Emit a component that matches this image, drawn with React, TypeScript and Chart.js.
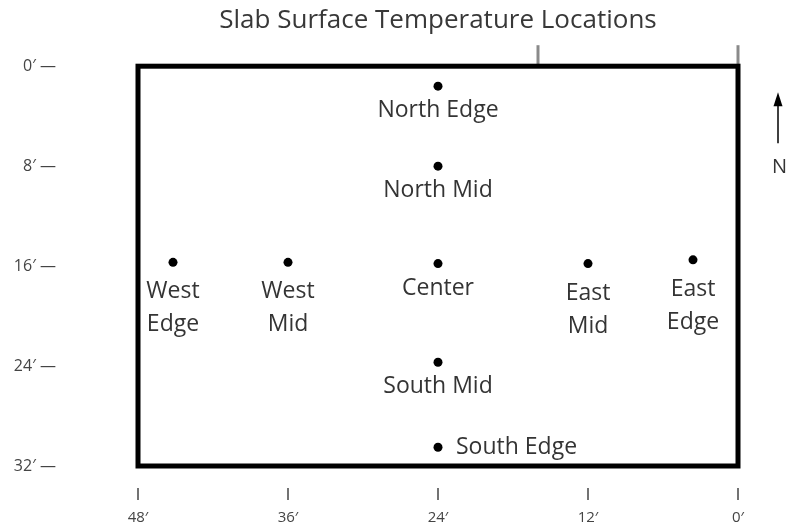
import React, { useEffect, useRef } from 'react';
import { Chart, registerables } from 'chart.js';

Chart.register(...registerables);

// ---- data ----
const chartTitle = 'Slab Surface Temperature Locations';
const pointNames = ['North Edge', 'North Mid', 'West Edge', 'West Mid', 'Center', 'East Mid', 'East Edge', 'South Mid', 'South Edge'];
const labelLines = [['North Edge'], ['North Mid'], ['West', 'Edge'], ['West', 'Mid'], ['Center'], ['East', 'Mid'], ['East', 'Edge'], ['South Mid'], ['South Edge']];
const labelSide = ['below', 'below', 'below', 'below', 'below', 'below', 'below', 'below', 'right'];
const xFeet = [24, 24, 45.2, 36, 24, 12, 3.6, 24, 24];
const yFeet = [1.6, 8, 15.7, 15.7, 15.8, 15.8, 15.5, 23.7, 30.5];
const xTicks = [48, 36, 24, 12, 0];
const yTicks = [0, 8, 16, 24, 32];
const topMarks = [16, 0];
const northLabel = 'N';

const FONT = "'Open Sans', 'DejaVu Sans', sans-serif";
const TEXT = '#343434';

const diagramPlugin = {
  id: 'diagram',
  beforeDatasetsDraw(chart: any) {
    const { ctx, chartArea: a } = chart;
    const xs = chart.scales.x;
    ctx.save();
    // stray marks above the top border
    ctx.strokeStyle = '#8a8a8a';
    ctx.lineWidth = 3;
    topMarks.forEach((v) => {
      const px = xs.getPixelForValue(v);
      ctx.beginPath();
      ctx.moveTo(px, a.top - 21);
      ctx.lineTo(px, a.top);
      ctx.stroke();
    });
    // slab outline
    ctx.strokeStyle = '#000';
    ctx.lineWidth = 5;
    ctx.strokeRect(a.left, a.top, a.right - a.left, a.bottom - a.top);
    // bottom tick marks
    ctx.strokeStyle = '#444';
    ctx.lineWidth = 1.5;
    xs.ticks.forEach((t: any) => {
      const px = xs.getPixelForValue(t.value);
      ctx.beginPath();
      ctx.moveTo(px, a.bottom + 22);
      ctx.lineTo(px, a.bottom + 34);
      ctx.stroke();
    });
    // north arrow
    const ax = a.right + 40;
    ctx.strokeStyle = '#000';
    ctx.fillStyle = '#000';
    ctx.lineWidth = 1.5;
    ctx.beginPath();
    ctx.moveTo(ax, a.top + 77);
    ctx.lineTo(ax, a.top + 38);
    ctx.stroke();
    ctx.beginPath();
    ctx.moveTo(ax, a.top + 26);
    ctx.lineTo(ax - 4.5, a.top + 40);
    ctx.lineTo(ax + 4.5, a.top + 40);
    ctx.closePath();
    ctx.fill();
    ctx.fillStyle = TEXT;
    ctx.font = `20px ${FONT}`;
    ctx.textAlign = 'left';
    ctx.textBaseline = 'alphabetic';
    ctx.fillText(northLabel, a.right + 34, a.top + 107);
    ctx.restore();
  },
  afterDatasetsDraw(chart: any) {
    const { ctx } = chart;
    const meta = chart.getDatasetMeta(0);
    ctx.save();
    ctx.fillStyle = TEXT;
    ctx.font = `23px ${FONT}`;
    ctx.textBaseline = 'alphabetic';
    meta.data.forEach((el: any, i: number) => {
      const lines = labelLines[i];
      if (labelSide[i] === 'right') {
        ctx.textAlign = 'left';
        ctx.fillText(lines.join(' '), el.x + 18, el.y + 7);
      } else {
        ctx.textAlign = 'center';
        const first = lines.length > 1 ? 36 : 31;
        lines.forEach((ln: string, k: number) => {
          ctx.fillText(ln, el.x, el.y + first + k * 33);
        });
      }
    });
    ctx.restore();
  },
};

export default function App() {
  const ref = useRef<HTMLCanvasElement | null>(null);
  useEffect(() => {
    if (!ref.current) return;
    Chart.defaults.font.family = FONT;
    const chart = new Chart(ref.current, {
      type: 'scatter',
      data: {
        datasets: [
          {
            label: 'Locations',
            data: pointNames.map((_, i) => ({ x: xFeet[i], y: yFeet[i] })),
            pointRadius: 4.5,
            pointHoverRadius: 4.5,
            backgroundColor: '#000',
            borderWidth: 0,
          },
        ],
      },
      options: {
        animation: false,
        responsive: true,
        maintainAspectRatio: false,
        layout: { padding: { left: 0, right: 48, top: 0, bottom: 0 } },
        plugins: {
          legend: { display: false },
          tooltip: { enabled: false },
          title: {
            display: true,
            text: chartTitle,
            fullSize: false,
            color: '#383838',
            font: { size: 26, weight: 'normal', family: FONT },
            padding: { top: 5, bottom: 30 },
          },
        },
        scales: {
          x: {
            type: 'linear',
            position: 'bottom',
            min: 0,
            max: 48,
            reverse: true,
            grid: { display: false, drawTicks: false },
            border: { display: false },
            afterBuildTicks: (s: any) => { s.ticks = xTicks.map((v) => ({ value: v })); },
            afterFit: (s: any) => { s.height = 61; s.paddingLeft = 0; s.paddingRight = 0; },
            ticks: {
              padding: 43,
              color: '#444',
              font: { size: 15 },
              maxRotation: 0,
              autoSkip: false,
              callback: (v: any) => `${v}′`,
            },
          },
          y: {
            type: 'linear',
            min: 0,
            max: 32,
            reverse: true,
            grid: { display: false, drawTicks: false },
            border: { display: false },
            afterBuildTicks: (s: any) => { s.ticks = yTicks.map((v) => ({ value: v })); },
            afterFit: (s: any) => { s.width = 138; s.paddingTop = 0; s.paddingBottom = 0; },
            ticks: {
              padding: 82,
              color: '#444',
              font: { size: 16 },
              autoSkip: false,
              callback: (v: any) => `${v}′ —`,
            },
          },
        },
      },
      plugins: [diagramPlugin],
    } as any);
    return () => chart.destroy();
  }, []);
  return (
    <div style={{ position: 'fixed', left: 0, top: 0, width: 786, height: 527, background: '#fff' }}>
      <canvas ref={ref} />
    </div>
  );
}
